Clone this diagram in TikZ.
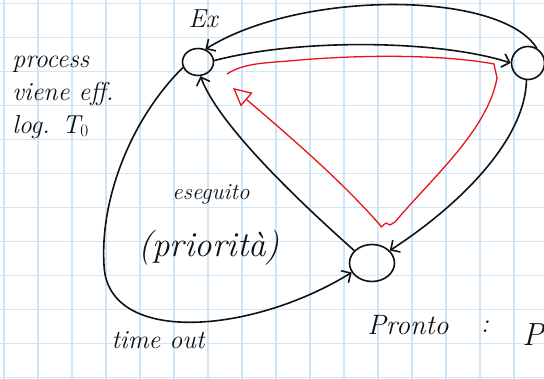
\documentclass[tikz,border=0pt]{standalone}
\usepackage{tikz}
\usetikzlibrary{arrows.meta,shapes.geometric}
\definecolor{gridline}{HTML}{CDE6F8}
\definecolor{pen}{HTML}{111111}
\definecolor{redpen}{HTML}{E8141B}

\begin{document}
\begin{tikzpicture}[x=1pt,y=-1pt,
  state/.style={draw=pen,line width=1.6pt,ellipse,inner sep=0pt},
  arc/.style={draw=pen,line width=1.6pt,-{Straight Barb[length=7pt,width=14pt]}},
  hand/.style={text=pen,inner sep=0pt}]
  \useasboundingbox (0,0) rectangle (544,379);
  \clip (0,0) rectangle (544,379);
  \fill[white] (0,0) rectangle (544,379);

  % squared paper
  \foreach \gx in {0,...,15}
    \draw[gridline,line width=1.8pt] ({4.3+34*\gx},0) -- ({4.3+34*\gx},379);
  \foreach \gy in {0,...,11}
    \draw[gridline,line width=1.8pt] (0,{3.5+34*\gy}) -- (544,{3.5+34*\gy});

  % states
  \node[state,minimum width=31pt,minimum height=27pt] (ex) at (198,62) {};
  \node[state,minimum width=33pt,minimum height=33pt] (rt) at (528,63) {};
  \node[state,minimum width=45pt,minimum height=37pt] (pr) at (372,263) {};

  % transitions
  \draw[arc] (rt.60) .. controls (500,-10) and (300,-10) .. (ex.60);
  \draw[arc] (ex.5) .. controls (300,38) and (440,40) .. (rt.180);
  \draw[arc] (rt.265) .. controls (525,140) and (460,205) .. (pr.35);
  \draw[arc] (pr.145) .. controls (320,220) and (220,130) .. (ex.280);
  \draw[arc] (ex.200) .. controls (130,120) and (100,200) .. (104,265)
    .. controls (107,345) and (250,335) .. (pr.205);

  % red cycle
  \draw[redpen,line width=1.3pt,line join=round,
        -{Triangle[open,length=18pt,width=18pt]}]
    (227,74) .. controls (245,62) and (270,63) .. (300,60)
    .. controls (360,55) and (440,54) .. (494,64) -- (497,78)
    .. controls (488,130) and (430,180) .. (395,222)
    -- (390,225) -- (386,223) -- (381,227) -- (380,225)
    .. controls (345,185) and (300,145) .. (233,88);

  % labels
  \node[hand,font=\fontsize{26}{26}\selectfont\itshape] (exlbl) at (203,19) {Ex};
  \node[hand,font=\fontsize{26}{33}\selectfont\itshape,align=left] (note) at (63,97)
    {process\\viene eff.\\log. T$_0$};
  \node[hand,font=\fontsize{23}{23}\selectfont\itshape] (eselbl) at (211,194) {eseguito};
  \node[hand,font=\fontsize{35}{35}\selectfont\itshape] (prio) at (209,248) {(priorità)};
  \node[hand,font=\fontsize{26}{26}\selectfont\itshape] (tolbl) at (158,340) {time out};
  \node[hand,font=\fontsize{28}{28}\selectfont\itshape] (prlbl) at (408,325) {Pronto};
  \node[hand,font=\fontsize{27}{27}\selectfont\itshape] (colon) at (485,327) {:};
  \node[hand,font=\fontsize{32}{32}\selectfont\itshape] (plbl) at (533,335) {P};
\end{tikzpicture}
\end{document}
